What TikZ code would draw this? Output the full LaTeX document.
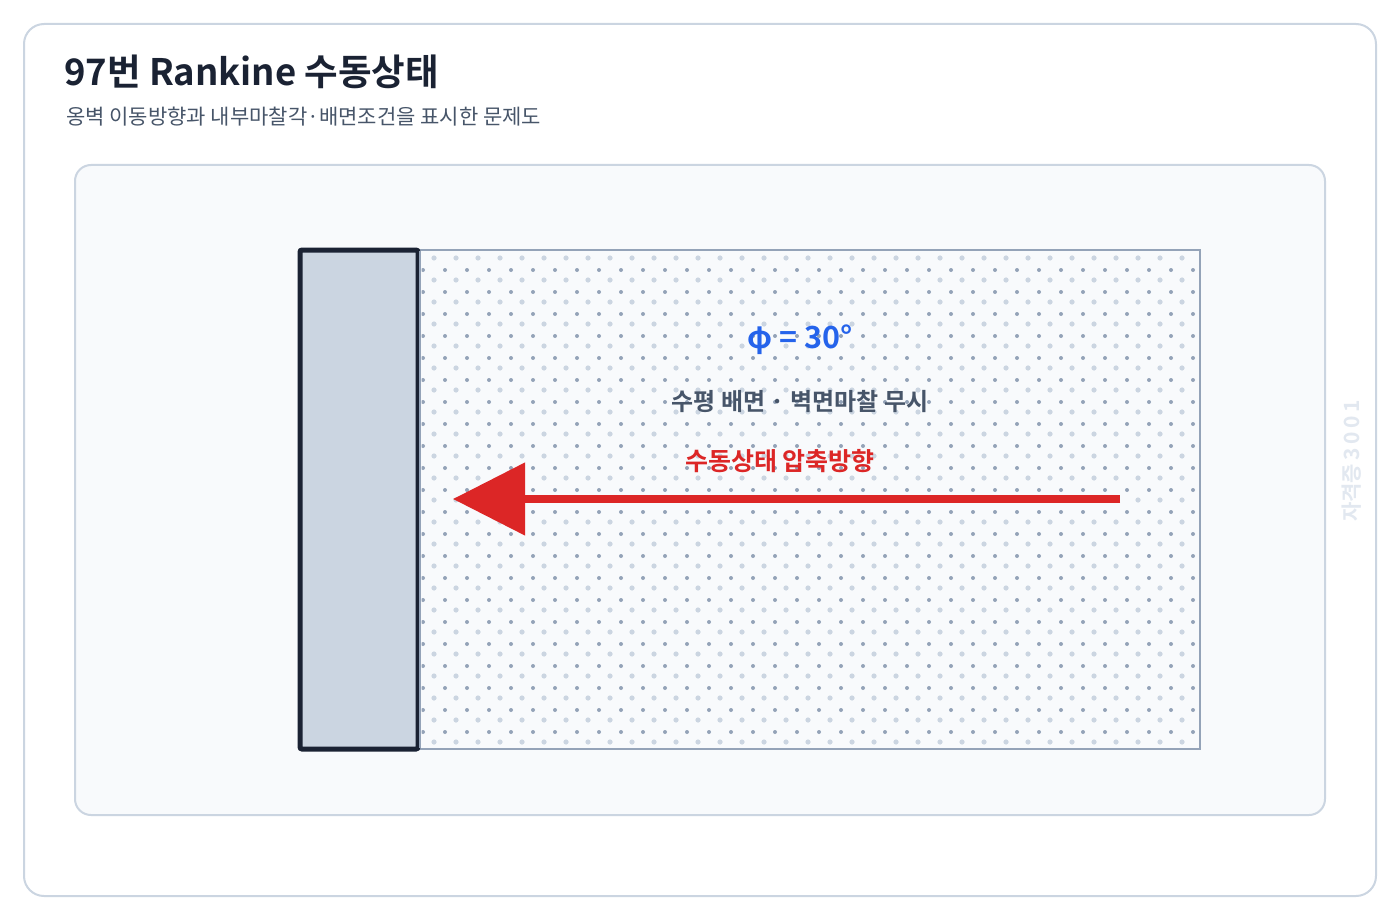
\documentclass[tikz,border=0pt]{standalone}
\usepackage{fontspec}
\setmainfont{Noto Sans CJK KR}
\newfontfamily\krb{Noto Sans CJK KR Bold}
\usetikzlibrary{arrows.meta}
\definecolor{ink}{HTML}{1A2233}
\definecolor{sub}{HTML}{475569}
\definecolor{edge}{HTML}{CBD5E1}
\definecolor{panel}{HTML}{F8FAFC}
\definecolor{dotd}{HTML}{94A3B8}
\definecolor{dotl}{HTML}{CBD5E1}
\definecolor{redc}{HTML}{DC2626}
\definecolor{bluec}{HTML}{2563EB}
\definecolor{wm}{HTML}{E2E8F0}
\begin{document}
\begin{tikzpicture}[x=1pt,y=-1pt,
  card/.style={draw=edge,line width=2pt,fill=white,rounded corners=20pt},
  panelbox/.style={draw=edge,line width=2pt,fill=panel,rounded corners=16pt},
  wallbox/.style={draw=ink,line width=5pt,fill=edge,rounded corners=2pt},
  soilbox/.style={draw=dotd,line width=2.5pt,fill=panel},
  lbl/.style={inner sep=0pt}]
\useasboundingbox (0,0) rectangle (1400,920);
\path[card] (24,24) rectangle (1376,896);
\node[inner sep=0pt,anchor=base west,text=ink,font=\krb\fontsize{36.5}{40}\selectfont] (title) at (64,86) {97번 Rankine 수동상태};
\node[inner sep=0pt,anchor=base west,text=sub,font=\fontsize{21}{24}\selectfont] (subtitle) at (66,125) {옹벽 이동방향과 내부마찰각·배면조건을 표시한 문제도};
\path[panelbox] (75,165) rectangle (1325,815);
\path[soilbox] (420,250) rectangle (1200,749);
\begin{scope}
\clip (421.5,251.5) rectangle (1198.7,747.7);
\foreach \i in {0,...,34} \foreach \j in {0,...,22}
  \fill[dotl] ({434+22*\i},{258+22*\j}) circle (2.6pt);
\foreach \i in {0,...,35} \foreach \j in {0,...,21}
  \fill[dotd] ({423+22*\i},{270+22*\j}) circle (2pt);
\end{scope}
\draw[soilbox,fill=none] (420,250) rectangle (1200,749);
\path[wallbox] (300,250) rectangle (418,749);
\draw[dotd,line width=2pt] (420,251) -- (420,748);
\node[inner sep=0pt,text=bluec,font=\krb\fontsize{30.5}{34}\selectfont] (phi) at (800,340) {φ = 30°};
\node[lbl,text=sub,font=\krb\fontsize{24}{28}\selectfont] (cond) at (800,401) {수평 배면 · 벽면마찰 무시};
\node[lbl,text=redc,font=\krb\fontsize{25}{28}\selectfont] (dir) at (780,461) {수동상태 압축방향};
\coordinate (arrS) at (1120,499);
\coordinate (arrT) at (453,499);
\draw[redc,line width=8pt,-{Triangle[length=72pt,width=71pt]}] (arrS) -- (arrT);
\node[inner sep=0pt,rotate=90,text=wm,font=\krb\fontsize{21}{24}\selectfont] (wmark) at (1352,461) {자격증\,3\,0\,0\,1};
\end{tikzpicture}
\end{document}
